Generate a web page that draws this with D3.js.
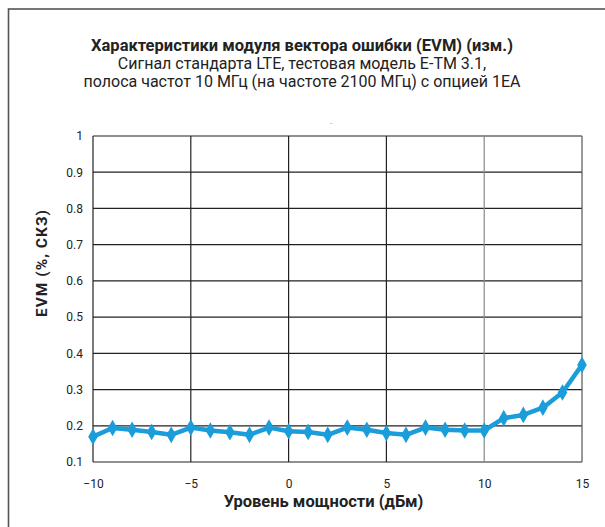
<!DOCTYPE html>
<html>
<head>
<meta charset="utf-8">
<script src="https://cdn.jsdelivr.net/npm/d3@7"></script>
<style>
  body { margin: 0; background: #fff; }
  text { font-family: Roboto, sans-serif; fill: #222; }
</style>
</head>
<body>
<div id="chart"></div>
<script>
const powerLevels = [-10, -9, -8, -7, -6, -5, -4, -3, -2, -1, 0, 1, 2, 3, 4, 5, 6, 7, 8, 9, 10, 11, 12, 13, 14, 15];
const evmValues = [0.170, 0.194, 0.189, 0.183, 0.175, 0.195, 0.187, 0.182, 0.175, 0.195, 0.185, 0.183, 0.175,
                   0.195, 0.189, 0.180, 0.175, 0.195, 0.189, 0.187, 0.187, 0.221, 0.230, 0.250, 0.292, 0.368];
const xTicks = [-10, -5, 0, 5, 10, 15];
const yTicks = [0.1, 0.2, 0.3, 0.4, 0.5, 0.6, 0.7, 0.8, 0.9, 1];
const titleLines = [
    "Характеристики модуля вектора ошибки (EVM) (изм.)",
    "Сигнал стандарта LTE, тестовая модель E-TM 3.1,",
    "полоса частот 10 МГц (на частоте 2100 МГц) с опцией 1EA"
];

const data = powerLevels.map((p, i) => ({x: p, y: evmValues[i]}));

const width = 605;
const height = 527;
const margin = ({top: 136, right: 23, bottom: 65, left: 93});

const x = d3.scaleLinear()
      .domain([-10, 15])
      .range([margin.left, width - margin.right]);

const y = d3.scaleLinear()
      .domain([0.1, 1])
      .range([height - margin.bottom, margin.top]);

const svg = d3.select("#chart").append("svg")
      .attr("width", width)
      .attr("height", height);

// outer frame
svg.append("rect")
    .attr("x", 8.5).attr("y", 9)
    .attr("width", 700).attr("height", 700)
    .attr("fill", "none")
    .attr("stroke", "#555")
    .attr("stroke-width", 1.6);

// titles
svg.append("g")
    .selectAll("text")
    .data(titleLines)
    .join("text")
    .attr("x", 302)
    .attr("y", (d, i) => 51 + i * 18)
    .attr("text-anchor", "middle")
    .attr("font-weight", (d, i) => i === 0 ? "bold" : "normal")
    .attr("font-size", (d, i) => i === 0 ? 16.5 : 16)
    .text(d => d);

svg.append("text")
    .attr("x", 331).attr("y", 126)
    .attr("text-anchor", "middle")
    .attr("font-size", 8)
    .style("fill", "#999")
    .text("-");

// grid
svg.append("g")
    .selectAll("line")
    .data(yTicks)
    .join("line")
    .attr("x1", margin.left).attr("x2", width - margin.right)
    .attr("y1", d => y(d)).attr("y2", d => y(d))
    .attr("stroke", "#222")
    .attr("stroke-width", 1.2);

svg.append("g")
    .selectAll("line")
    .data(xTicks)
    .join("line")
    .attr("x1", d => x(d)).attr("x2", d => x(d))
    .attr("y1", y(0.1)).attr("y2", y(1))
    .attr("stroke", d => d === 10 ? "#888" : (d === 15 ? "#555" : "#222"))
    .attr("stroke-width", 1.2);

// axes
const xAxis = g => g
      .attr("transform", `translate(0,${height - margin.bottom})`)
      .call(d3.axisBottom(x).tickValues(xTicks).tickSize(0).tickPadding(17))
      .call(g => g.select(".domain").remove())
      .call(g => g.selectAll("text").attr("font-size", 12).style("font-family", "Roboto, sans-serif").attr("fill", "#222"));

const yAxis = g => g
      .attr("transform", `translate(${margin.left},0)`)
      .call(d3.axisLeft(y).tickValues(yTicks).tickFormat(d3.format("~g")).tickSize(0).tickPadding(10))
      .call(g => g.select(".domain").remove())
      .call(g => g.selectAll("text").attr("font-size", 12).style("font-family", "Roboto, sans-serif").attr("fill", "#222"));

svg.append("g").call(xAxis);
svg.append("g").call(yAxis);

svg.append("text")
    .attr("x", 323.5)
    .attr("y", 507)
    .attr("text-anchor", "middle")
    .attr("font-size", 16.5)
    .attr("font-weight", "bold")
    .text("Уровень мощности (дБм)");

svg.append("text")
    .attr("transform", `translate(47,263) rotate(-90)`)
    .attr("text-anchor", "middle")
    .attr("font-size", 15.5)
    .attr("font-weight", "bold")
    .attr("letter-spacing", 1)
    .text("EVM (%, СКЗ)");

// series
const line = d3.line()
      .x(d => x(d.x))
      .y(d => y(d.y));

svg.append("path")
    .datum(data)
    .attr("fill", "none")
    .attr("stroke", "#1b9ddb")
    .attr("stroke-width", 4.5)
    .attr("stroke-linejoin", "round")
    .attr("d", line);

const diamond = d3.symbol().type(d3.symbolDiamond).size(80);

svg.append("g")
    .selectAll("path")
    .data(data)
    .join("path")
    .attr("transform", d => `translate(${x(d.x)},${y(d.y)})`)
    .attr("d", diamond)
    .attr("fill", "#1b9ddb");
</script>
</body>
</html>
